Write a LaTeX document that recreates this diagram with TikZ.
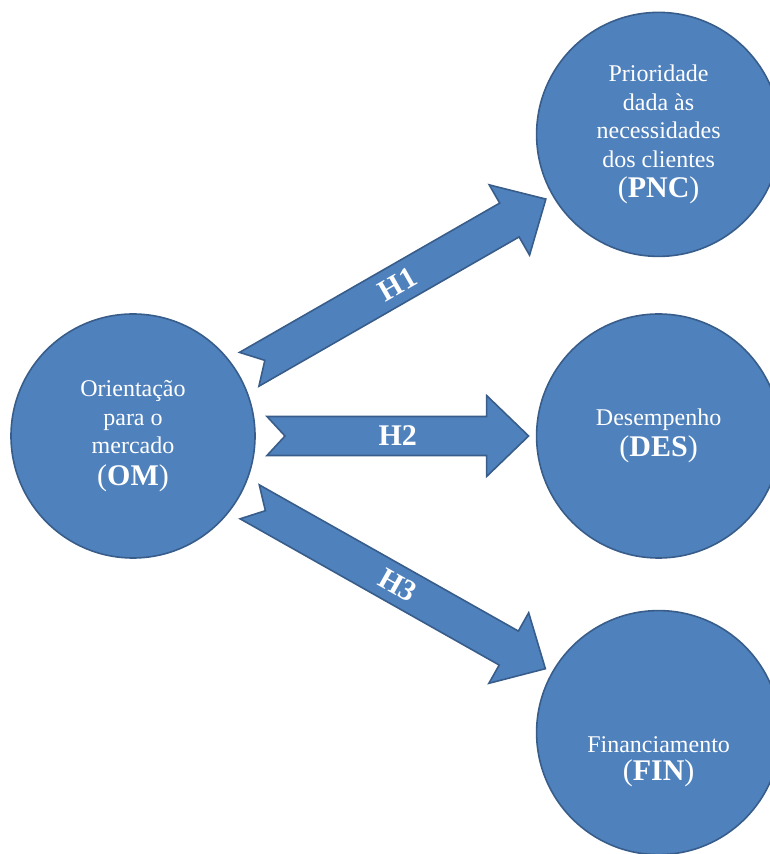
\documentclass[tikz,border=0pt]{standalone}
\usepackage{fontspec}
\setmainfont{Liberation Serif}
\usetikzlibrary{calc,positioning}
\definecolor{circblue}{HTML}{4F81BD}
\definecolor{rimblue}{HTML}{385D8A}
\newcommand{\acr}[1]{{\fontsize{30}{34}\selectfont(\textbf{#1})}}

\begin{document}
\begin{tikzpicture}[x=1pt,y=1pt,every node/.style={font=\fontsize{24}{28.5}\selectfont,align=center,text=white},
c/.style={circle,draw=rimblue,fill=circblue,line width=1.6pt,minimum size=244pt,inner sep=0pt},
arr/.style={draw=rimblue,fill=circblue,line width=1.6pt,line join=miter},
hyp/.style={to path={let \p1=($(\tikztostart)!134pt!(\tikztotarget)$),\p2=($(\tikztotarget)!130pt!(\tikztostart)$),
  \n1={atan2(\y2-\y1,\x2-\x1)},\n2={veclen(\x2-\x1,\y2-\y1)} in
  ([shift={(\p1)},rotate=\n1]0,19.5)--([shift={(\p1)},rotate=\n1]\n2-42,19.5)
  --([shift={(\p1)},rotate=\n1]\n2-42,40.5)--(\p2)
  --([shift={(\p1)},rotate=\n1]\n2-42,-40.5)--([shift={(\p1)},rotate=\n1]\n2-42,-19.5)
  --([shift={(\p1)},rotate=\n1]0,-19.5)--([shift={(\p1)},rotate=\n1]18,0)--cycle
  node[rotate=\n1,inner sep=0pt,font=\fontsize{30}{30}\selectfont\bfseries] at ($(\p1)!0.5!(\p2)$) {#1}}}]
\useasboundingbox (0,0) rectangle (770,854);
\node[c] (om) at (133,418) {Orientação\\para o\\mercado\\[3pt]\acr{OM}};
\node[c,right=280pt of om] (des) {Desempenho\\[2pt]\acr{DES}};
\node[c,above=56pt of des] (pnc) {Prioridade\\dada às\\necessidades\\dos clientes\\[2pt]\acr{PNC}};
\node[c,below=51pt of des] (fin) {};
\node (finlbl) at ([yshift=-29pt]fin) {Financiamento\\\acr{FIN}};
\path[arr] (om) to[hyp=H1] (pnc);
\path[arr] (om) to[hyp=H2] (des);
\path[arr] (om) to[hyp=H3] (fin);
\end{tikzpicture}
\end{document}
